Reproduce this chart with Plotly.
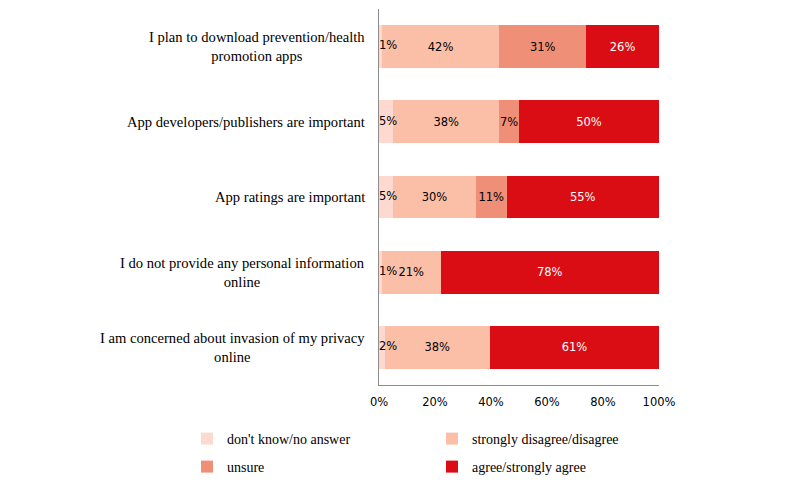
import plotly.graph_objects as go

# survey statements, top to bottom
categories = [
    "I plan to download prevention/health<br>promotion apps",
    "App developers/publishers are important",
    "App ratings are important",
    "I do not provide any personal information<br>online",
    "I am concerned about invasion of my privacy<br>online",
]

dont_know = [1, 5, 5, 1, 2]
disagree = [42, 38, 30, 21, 38]
unsure = [31, 7, 11, None, None]
agree = [26, 50, 55, 78, 61]

series = [
    ("don't know/no answer", dont_know, "#fdd9cf", "black"),
    ("strongly disagree/disagree", disagree, "#fbbfa8", "black"),
    ("unsure", unsure, "#ef8f77", "black"),
    ("agree/strongly agree", agree, "#d90d13", "white"),
]

SERIF = "Liberation Serif, DejaVu Serif, serif"
SANS = "DejaVu Sans, sans-serif"

# page body adds a small offset, so pixel targets are shifted back by it
OFF = 7
L, R, T, B = 378 - OFF, 658 - OFF, 8 - OFF, 384 - OFF
legend_pos = [(186, 438), (431, 438), (186, 466), (431, 466)]

fig = go.Figure()

legend_names = ["legend", "legend2", "legend3", "legend4"]
for i, ((name, vals, color, txtcol), leg) in enumerate(zip(series, legend_names)):
    fig.add_trace(go.Bar(
        y=categories,
        x=vals,
        name=name,
        orientation="h",
        marker=dict(color=color, line=dict(width=0)),
        text=[f"{v}%" if v is not None else "" for v in vals],
        texttemplate="%{text}",
        # the thin first segment gets its label drawn on top further down
        textposition="none" if i == 0 else "inside",
        insidetextanchor="middle",
        textangle=0,
        constraintext="none",
        textfont=dict(family=SANS, size=11.5, color=txtcol),
        legend=leg,
        showlegend=True,
        hoverinfo="skip",
    ))

# labels of the thin first segment, starting at the bar base and overflowing right
fig.add_trace(go.Scatter(
    y=categories,
    x=[0] * len(categories),
    mode="text",
    text=[f"{v}%" for v in dont_know],
    textposition="middle right",
    textfont=dict(family=SANS, size=11.5, color="black"),
    showlegend=False,
    hoverinfo="skip",
    cliponaxis=False,
))

for cat in categories:
    fig.add_annotation(
        x=0, xref="paper", y=cat, yref="y",
        text=cat, showarrow=False, xanchor="right", align="center",
        xshift=-12, font=dict(family=SERIF, size=14.6, color="black"),
    )

legends = {}
for leg, (px_, py_) in zip(legend_names, legend_pos):
    legends[leg] = dict(
        orientation="h",
        x=(px_ - OFF - L) / (R - L), y=(B - (py_ - OFF)) / (B - T),
        xanchor="left", yanchor="middle",
        font=dict(family=SERIF, size=14, color="black"),
        bgcolor="rgba(0,0,0,0)",
    )

fig.update_layout(
    width=790,
    height=489,
    barmode="stack",
    barnorm="percent",
    bargap=0.43,
    plot_bgcolor="white",
    paper_bgcolor="white",
    showlegend=True,
    margin=dict(l=L, r=790 - R, t=T, b=489 - B, autoexpand=False),
    **legends,
)

fig.update_xaxes(
    range=[0, 100],
    tickvals=[0, 20, 40, 60, 80, 100],
    ticktext=["0%", "20%", "40%", "60%", "80%", "100%"],
    showgrid=False,
    zeroline=False,
    showline=True,
    linecolor="#8c8c8c",
    linewidth=1,
    ticks="",
    ticklabelstandoff=6,
    tickfont=dict(family=SANS, size=11.5, color="black"),
)
fig.update_yaxes(
    autorange="reversed",
    showticklabels=False,
    showgrid=False,
    showline=True,
    linecolor="#8c8c8c",
    linewidth=1,
    ticks="",
)

fig.write_html("out.html")
